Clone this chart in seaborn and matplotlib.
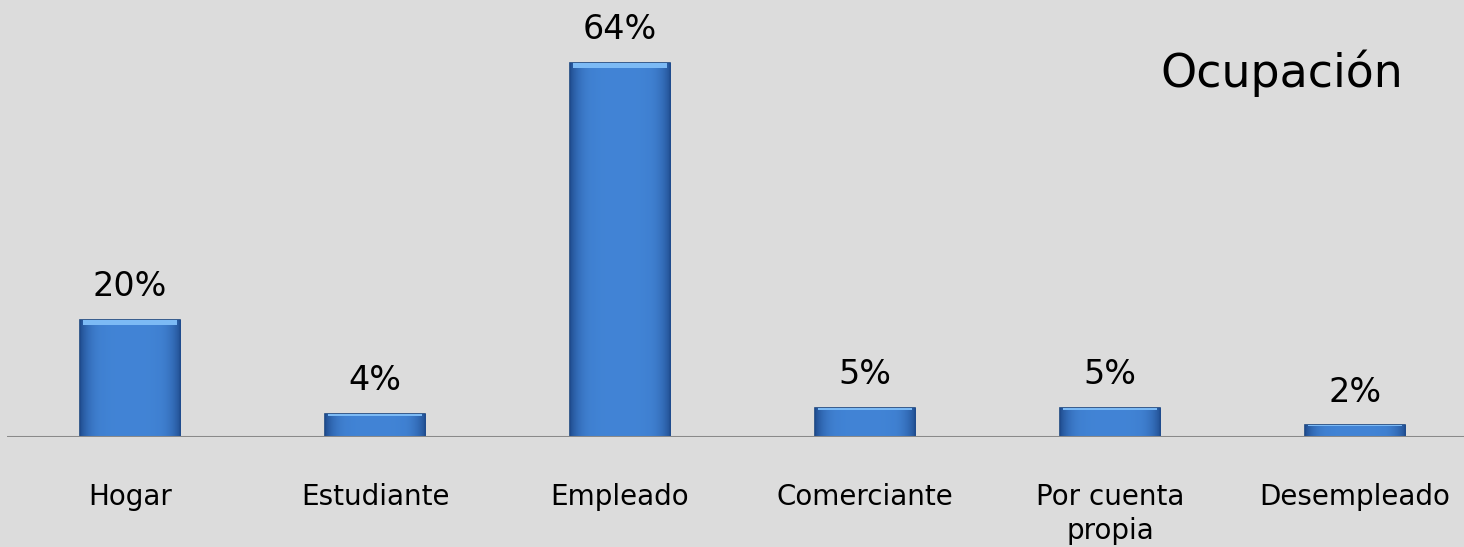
import numpy as np
import pandas as pd
import matplotlib.pyplot as plt
import seaborn as sns

categorias = ['Hogar', 'Estudiante', 'Empleado', 'Comerciante', 'Por cuenta\npropia', 'Desempleado']
porcentajes = [20, 4, 64, 5, 5, 2]
etiquetas = ['20%', '4%', '64%', '5%', '5%', '2%']
titulo = 'Ocupación'

sns.set_style('white')
plt.rcParams['font.family'] = ['DejaVu Sans']

fondo = '#dcdcdc'
fig = plt.figure(figsize=(14.64, 5.47), dpi=100, facecolor=fondo)
# los ejes se salen un poco por la derecha, como en el original
ax = fig.add_axes([7.5 / 1464, 110 / 547, 1470 / 1464, 437 / 547])
ax.set_facecolor(fondo)

df = pd.DataFrame({'cat': categorias, 'pct': porcentajes})
sns.barplot(data=df, x='cat', y='pct', color='#3f80d2', width=0.41,
            edgecolor='#1b4680', linewidth=1.2, saturation=1, ax=ax, zorder=3)

# efecto biselado: degradado recortado a cada barra
for p in ax.patches:
    x0, y0 = p.get_x(), p.get_y()
    w, h = p.get_width(), p.get_height()
    img = np.ones((2, 256, 4))
    # oscuro en los bordes laterales, más claro en el centro
    prof = 1 - np.abs(np.linspace(-1, 1, 256)) ** 5
    img[..., 0] = 0.12 + 0.14 * prof
    img[..., 1] = 0.29 + 0.23 * prof
    img[..., 2] = 0.55 + 0.29 * prof
    img[..., 3] = 0.95
    im = ax.imshow(img, extent=[x0, x0 + w, y0, y0 + h], aspect='auto', zorder=4)
    im.set_clip_path(p)
    # brillo superior
    hi = min(h * 0.08, 0.9)
    ax.fill_between([x0 + w * 0.03, x0 + w * 0.97], y0 + h - hi, y0 + h,
                    color='#7cbaf5', zorder=5, lw=0)

ax.bar_label(ax.containers[0], labels=etiquetas, padding=12, fontsize=24, color='black')

ax.axhline(0, color='#8a8a8a', lw=2.2, zorder=6)

ax.set_xlim(-0.5, 5.5)
ax.set_ylim(0, 74.8)
ax.set_xlabel('')
ax.set_ylabel('')
ax.set_yticks([])
ax.tick_params(axis='x', length=0, pad=33, labelsize=20, colors='black')
for t in ax.get_xticklabels():
    t.set_linespacing(1.3)
sns.despine(ax=ax, left=True, bottom=True)

fig.text(1282 / 1464, 1 - 73 / 547, titulo, fontsize=33, ha='center', va='center',
         color='black')

fig.savefig('out.png', dpi=100, facecolor=fondo)
